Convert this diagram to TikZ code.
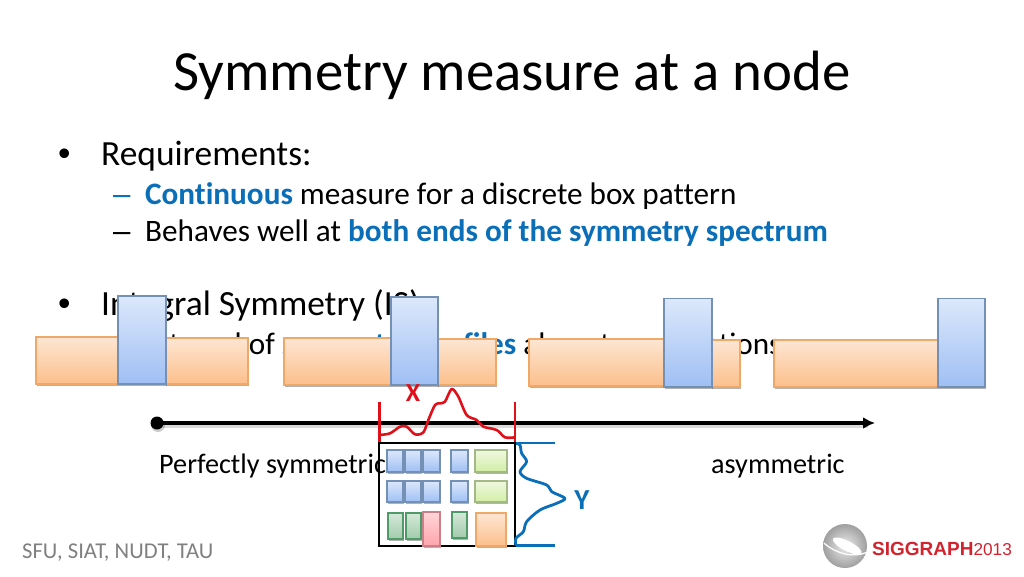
\documentclass[tikz,border=0pt]{standalone}
\usepackage{fontspec}
\setmainfont[Ligatures=CommonOff]{Carlito}
\newfontfamily\logofont{Liberation Sans}
\usetikzlibrary{shadows,arrows.meta}
\definecolor{hl}{HTML}{0A6FB8}
\definecolor{foot}{HTML}{808080}
\definecolor{bluetop}{HTML}{DCE8FB}
\definecolor{bluebot}{HTML}{9FBFF4}
\definecolor{blueedge}{HTML}{7590B5}
\definecolor{ortop}{HTML}{FDE6D3}
\definecolor{orbot}{HTML}{FCBF8B}
\definecolor{oredge}{HTML}{F0A868}
\definecolor{grtop}{HTML}{F0F8E0}
\definecolor{grbot}{HTML}{D2EEA5}
\definecolor{gredge}{HTML}{A3B986}
\definecolor{dgtop}{HTML}{D5E8D8}
\definecolor{dgbot}{HTML}{A2CBAC}
\definecolor{dgedge}{HTML}{4F9A68}
\definecolor{pktop}{HTML}{FFD5D8}
\definecolor{pkbot}{HTML}{FFA5AC}
\definecolor{pkedge}{HTML}{C8808A}
\definecolor{redln}{HTML}{E0101A}
\definecolor{logored}{HTML}{D2232E}
\tikzset{
  x=1pt,y=-1pt,
  txt/.style={anchor=base west,inner sep=0pt,text=black},
  title/.style={txt,font=\fontsize{56.8}{57}\selectfont},
  lvlone/.style={txt,font=\fontsize{35.4}{36}\selectfont},
  lvltwo/.style={txt,font=\fontsize{31.2}{32}\selectfont},
  boxbase/.style={line width=1.1pt,drop shadow={shadow xshift=.8pt,shadow yshift=-1.6pt,opacity=.3,fill=black}},
  orangebar/.style={boxbase,draw=oredge,top color=ortop,bottom color=orbot},
  bluebar/.style={boxbase,draw=blueedge,top color=bluetop,bottom color=bluebot},
  smallgreen/.style={boxbase,draw=gredge,top color=grtop,bottom color=grbot},
  darkgreen/.style={boxbase,draw=dgedge,top color=dgtop,bottom color=dgbot},
  pinkbar/.style={boxbase,draw=pkedge,top color=pktop,bottom color=pkbot},
  redline/.style={draw=redln,line width=2.6pt},
  blueline/.style={draw=hl,line width=2.8pt},
}
\newcommand{\bx}[5]{\path[#1] (#2,#3) rectangle (#4,#5);}
\begin{document}
\begin{tikzpicture}
\useasboundingbox (0,0) rectangle (1024,576);
\fill[white] (0,0) rectangle (1024,576);
\node[title] (ttl) at (173,90) {Symmetry measure at a node};
\node[lvlone] (b1) at (58,165.5) {\logofont •};
\node[lvlone] (req) at (101,165.5) {Requirements:};
\node[lvltwo] (d1) at (113,204.5) {\logofont\textcolor{hl}{–}};
\node[lvltwo] (t1) at (145,204.5) {\textcolor{hl}{\textbf{Continuous}} measure for a discrete box pattern};
\node[lvltwo] (d2) at (113,241.5) {\logofont –};
\node[lvltwo] (t2) at (145,241.5) {Behaves well at \textcolor{hl}{\textbf{both ends of the symmetry spectrum}}};
\node[lvlone] (b2) at (58,315.5) {\logofont •};
\node[lvlone] (is) at (101,315.5) {Integral Symmetry (IS)};
\node[lvltwo] (d3) at (113,354.5) {\logofont –};
\node[lvltwo] (t3) at (145,354.5) {Integral of \textcolor{hl}{\textbf{symmetry profiles}} along two directions};
% scene 1
\bx{orangebar}{36}{337}{118}{384}
\bx{orangebar}{165}{338}{248}{384}
\bx{bluebar}{118}{296}{166}{384}
% scene 2
\bx{orangebar}{284}{338}{391}{385}
\bx{orangebar}{437}{339}{496}{385}
\bx{bluebar}{391}{297}{438}{385}
% scene 3
\bx{orangebar}{529}{339}{665}{386}
\bx{orangebar}{711}{340}{740}{387}
\bx{bluebar}{664}{298.5}{712}{387}
% scene 4
\bx{orangebar}{774}{340}{938}{387}
\bx{bluebar}{938}{298.5}{985}{387}
% axis
\coordinate (axs) at (157,423);
\coordinate (axe) at (875,423);
\draw[black,opacity=.14,line width=4pt] (158,425.5) -- (868,425.5);
\fill[black,opacity=.2] (158,425) circle (7);
\fill[black] (axs) circle (6.5);
\draw[black,line width=3.5pt,-{Latex[length=12pt,width=12pt]}] (axs) -- (axe);
\node[txt,font=\fontsize{28.2}{29}\selectfont] (sym) at (159,473) {Perfectly symmetric};
\node[txt,font=\fontsize{28.2}{29}\selectfont] (asym) at (711,473) {asymmetric};
% matrix
\draw[black,line width=1.2pt] (379,443) rectangle (515,546);
\foreach \ya/\yb in {450/472,481/502}{
  \bx{bluebar}{387}{\ya}{403}{\yb}
  \bx{bluebar}{405}{\ya}{421}{\yb}
  \bx{bluebar}{423}{\ya}{440}{\yb}
  \bx{bluebar}{451}{\ya}{468}{\yb}
  \bx{smallgreen}{475}{\ya}{507}{\yb}
}
\bx{darkgreen}{388}{513}{403}{539}
\bx{darkgreen}{406}{513}{421}{539}
\bx{pinkbar}{423}{512}{440}{546}
\bx{darkgreen}{452}{512}{467}{538}
\bx{orangebar}{476}{513}{506}{546}
% profiles
\begin{scope}[shift={(360,375)},x=.3333pt,y=-.3333pt]
\draw[redline] (58,82) -- (58,200);
\draw[redline] (465,82) -- (465,200);
\draw[redline,line join=round] plot[smooth,tension=.5] coordinates {(58,180)(90,175)(120,155)(140,155)(165,178)(190,172)(205,135)(225,90)(240,85)(255,80)(275,42)(295,65)(320,120)(350,135)(370,155)(410,165)(435,187)(465,187)};
\draw[blueline] (468,204) -- (585,204);
\draw[blueline] (468,512) -- (585,512);
\draw[blueline,line join=round] plot[smooth,tension=.5] coordinates {(468,205)(480,210)(485,235)(500,260)(480,290)(500,310)(560,330)(575,350)(615,370)(590,385)(540,405)(500,440)(490,470)(468,490)(468,512)};
\end{scope}
\node[font=\bfseries\fontsize{26}{26}\selectfont,text=redln,inner sep=0pt] (xl) at (413,393) {X};
\node[font=\bfseries\fontsize{29}{29}\selectfont,text=hl,inner sep=0pt] (yl) at (582,500) {Y};
% footer
\node[txt,text=foot,font=\fontsize{22.6}{23}\selectfont] (ft) at (22,558) {SFU, SIAT, NUDT, TAU};
% logo
\shade[inner color=gray!15,outer color=gray!75] (845,546) circle (22);
\fill[white,rotate around={-27:(845,546)}] (847,545) ellipse (16 and 5);
\draw[white,line width=1.2pt,rotate around={-27:(845,546)}] (825,553) .. controls (840,557) and (858,553) .. (867,542);
\node[txt,font=\logofont\bfseries\fontsize{19}{20}\selectfont,text=logored] (lg) at (872,555) {SIGGRAPH\textmd{\fontsize{17.2}{20}\selectfont 2013}};
\end{tikzpicture}
\end{document}
